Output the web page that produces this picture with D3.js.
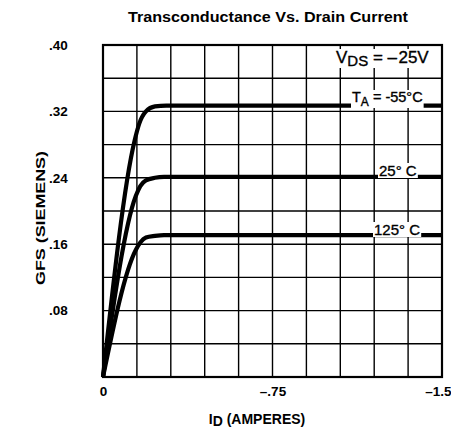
<!DOCTYPE html>
<html>
<head>
<meta charset="utf-8">
<script src="https://cdnjs.cloudflare.com/ajax/libs/d3/7.8.5/d3.min.js"></script>
<style>
  body { margin: 0; background: #fff; }
  svg { font-family: "Liberation Sans", Arial, Helvetica, sans-serif; }
  .tick text { font-weight: bold; font-size: 13.5px; }
</style>
</head>
<body>
<div class="svg-container"></div>
<script>
var width = 451;
var height = 432;

var padding = { "top": 45, "right": 9, "bottom": 55, "left": 103 };

// series (x = drain current magnitude in amps, y = gfs in siemens)
var currentM55 = [0, 0.14, 0.16, 0.19, 0.23, 0.28, 1.5];
var gfsM55     = [0, 0.285, 0.305, 0.32, 0.326, 0.327, 0.327];
var current25  = [0, 0.145, 0.165, 0.19, 0.23, 0.27, 1.5];
var gfs25      = [0, 0.218, 0.23, 0.237, 0.24, 0.241, 0.241];
var current125 = [0, 0.145, 0.165, 0.19, 0.23, 0.27, 1.5];
var gfs125     = [0, 0.153, 0.162, 0.168, 0.17, 0.171, 0.171];

var xTicks = [0, 0.75, 1.5];
var xTickLabels = ["0", "\u2013.75", "\u20131.5"];
var yTicks = [0.08, 0.16, 0.24, 0.32, 0.40];
var yTickLabels = [".08", ".16", ".24", ".32", ".40"];

var xGrid = d3.range(0, 11).map(function(i) { return i * 0.15; });
var yGrid = d3.range(0, 11).map(function(i) { return i * 0.04; });

var innerW = width - padding.left - padding.right;
var innerH = height - padding.top - padding.bottom;

var svg = d3.select(".svg-container")
    .append("svg")
    .attr("width", width)
    .attr("height", height);

var g = svg.append("g")
    .attr("transform", "translate(" + padding.left + "," + padding.top + ")");

var scaleX = d3.scaleLinear().domain([0, 1.5]).range([0, innerW]);
var scaleY = d3.scaleLinear().domain([0, 0.40]).range([innerH, 0]);

// grid
g.append("g").selectAll("line")
    .data(xGrid)
    .enter().append("line")
    .attr("x1", function(d) { return scaleX(d); })
    .attr("x2", function(d) { return scaleX(d); })
    .attr("y1", 0)
    .attr("y2", innerH)
    .attr("stroke", "#000")
    .attr("stroke-width", 1.4);

g.append("g").selectAll("line")
    .data(yGrid)
    .enter().append("line")
    .attr("x1", 0)
    .attr("x2", innerW)
    .attr("y1", function(d) { return scaleY(d); })
    .attr("y2", function(d) { return scaleY(d); })
    .attr("stroke", "#000")
    .attr("stroke-width", 1.4);

// frame
g.append("rect")
    .attr("width", innerW)
    .attr("height", innerH)
    .attr("fill", "none")
    .attr("stroke", "#000")
    .attr("stroke-width", 2.2);

// axes (labels only)
var xAxis = g.append("g")
    .attr("transform", "translate(0," + innerH + ")")
    .call(d3.axisBottom(scaleX).tickValues(xTicks).tickSize(0).tickPadding(9)
        .tickFormat(function(d, i) { return xTickLabels[i]; }));
xAxis.select(".domain").remove();
xAxis.selectAll("text").filter(function(d, i) { return i === xTicks.length - 1; })
    .attr("text-anchor", "end").attr("dx", "9");

var yAxis = g.append("g")
    .call(d3.axisLeft(scaleY).tickValues(yTicks).tickSize(0).tickPadding(34)
        .tickFormat(function(d, i) { return yTickLabels[i]; }));
yAxis.select(".domain").remove();
yAxis.selectAll("text").attr("text-anchor", "start").attr("x", -54);

// curves
var line = d3.line()
    .curve(d3.curveMonotoneX)
    .x(function(d) { return scaleX(d[0]); })
    .y(function(d) { return scaleY(d[1]); });

[[currentM55, gfsM55], [current25, gfs25], [current125, gfs125]].forEach(function(s) {
    g.append("path")
        .datum(d3.zip(s[0], s[1]))
        .attr("fill", "none")
        .attr("stroke", "#000")
        .attr("stroke-width", 4.2)
        .attr("stroke-linejoin", "round")
        .attr("d", line);
});

// labels with white backing
function label(x, y, size, parts) {
    var t = g.append("text")
        .attr("x", x)
        .attr("y", y)
        .attr("font-size", size)
        .attr("stroke", "#000")
        .attr("stroke-width", 0.35);
    parts.forEach(function(p) {
        var ts = t.append("tspan").text(p[0]);
        if (p[1]) ts.attr("dy", p[1]);
        if (p[2]) ts.attr("font-size", p[2]);
    });
    var b = t.node().getBBox();
    g.insert("rect", function() { return t.node(); })
        .attr("x", b.x - 1)
        .attr("y", b.y + 1)
        .attr("width", b.width + 2)
        .attr("height", b.height - 2)
        .attr("fill", "#fff");
}

label(233, 18, 17, [["V"], ["DS", 3, 15], [" = \u2013\u200a25V", -3, 17]]);
label(249, 57, 14.5, [["T"], ["A", 4, 12], [" = -55\u00b0C", -4, 14.5]]);
label(276, 131, 15, [["25\u00b0 C"]]);
label(271, 190, 15, [["125\u00b0 C"]]);

// title and axis titles
svg.append("text")
    .attr("x", 268)
    .attr("y", 22)
    .attr("text-anchor", "middle")
    .attr("font-size", 14.5)
    .attr("font-weight", "bold")
    .attr("textLength", 280)
    .attr("lengthAdjust", "spacingAndGlyphs")
    .text("Transconductance Vs. Drain Current");

svg.append("text")
    .attr("transform", "translate(45,218) rotate(270)")
    .attr("text-anchor", "middle")
    .attr("font-size", 13)
    .attr("font-weight", "bold")
    .attr("textLength", 134)
    .attr("lengthAdjust", "spacingAndGlyphs")
    .text("GFS (SIEMENS)");

var xl = svg.append("text")
    .attr("x", 257)
    .attr("y", 424)
    .attr("text-anchor", "middle")
    .attr("font-size", 14)
    .attr("font-weight", "bold");
xl.append("tspan").text("I");
xl.append("tspan").text("D").attr("dy", 2);
xl.append("tspan").text(" (AMPERES)").attr("dy", -2);
</script>
</body>
</html>
